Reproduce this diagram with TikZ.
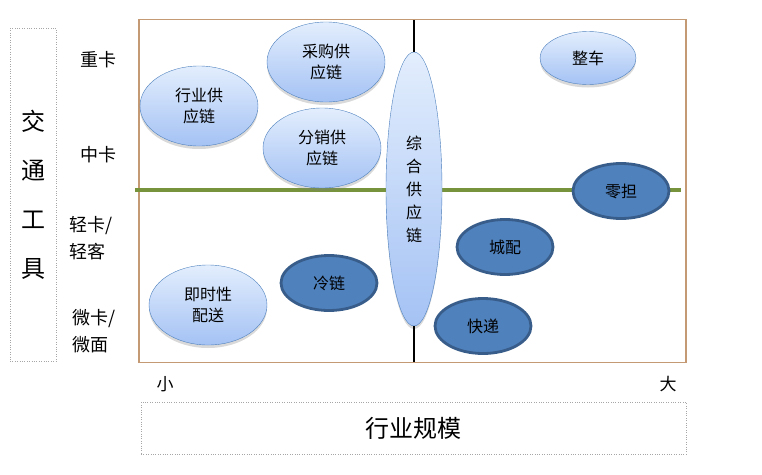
\documentclass[tikz,border=0pt]{standalone}
\usepackage{fontspec}
\setmainfont{Noto Sans CJK SC}
\usepackage{tikz}
\usetikzlibrary{shapes.geometric, shadows, positioning}
\usepackage{xcolor}
\definecolor{framecolor}{HTML}{C49A74}
\definecolor{linegreen}{HTML}{77933C}
\definecolor{bubbleedge}{HTML}{4F81BD}
\definecolor{bubbletop}{HTML}{E3EEFD}
\definecolor{bubblebot}{HTML}{A4C2F4}
\definecolor{darkfill}{HTML}{4F81BD}
\definecolor{darkedge}{HTML}{385D8A}

\begin{document}
\begin{tikzpicture}[
    x=1pt, y=-1pt,
    bubble/.style={ellipse, draw=bubbleedge, thin, top color=bubbletop, bottom color=bubblebot,
        inner sep=0pt, align=center, font=\fontsize{16}{21}\selectfont,
        drop shadow={shadow xshift=0pt, shadow yshift=-3pt, opacity=0.3}},
    darkbubble/.style={ellipse, draw=darkedge, line width=2.8pt, fill=darkfill,
        inner sep=0pt, align=center, font=\fontsize{16}{21}\selectfont,
        minimum width=96pt, minimum height=55pt},
    rowlabel/.style={align=left, font=\fontsize{18}{27}\selectfont},
    axisbox/.style={draw=gray!70, dotted, inner sep=0pt},
]
\useasboundingbox (0,0) rectangle (762,474);

% frame and axes
\node[draw=framecolor, line width=1.4pt, minimum width=547pt, minimum height=343pt] (frame) at (412.5,191) {};
\coordinate (vtop) at (414,20);
\coordinate (vbot) at (414,362);
\coordinate (gleft) at (135,190);
\coordinate (gright) at (681,190);
\draw[linegreen, line width=3.5pt] (gleft) -- (gright);

% axis titles
\node[axisbox, minimum width=46pt, minimum height=333pt, align=center,
      font=\fontsize{24}{49}\selectfont] (mode) at (33,194.5) {交\\通\\工\\具};
\node[axisbox, minimum width=545pt, minimum height=52pt,
      font=\fontsize{24}{30}\selectfont] (scale) at (413.5,428) {行业规模};
\node[font=\fontsize{17}{20}\selectfont] (small) at (165,384) {小};
\node[font=\fontsize{17}{20}\selectfont] (big) at (668,384) {大};

% vehicle rows
\node[rowlabel] (heavy) at (98,60) {重卡};
\node[rowlabel] (medium) at (98,155) {中卡};
\node[rowlabel] (light) at (91,238) {轻卡/\\轻客};
\node[rowlabel] (micro) at (94,331) {微卡/\\微面};

% supply chain bubbles
\node[bubble, minimum width=118pt, minimum height=80pt] (industry) at (199,106) {行业供\\应链};
\node[bubble, minimum width=118pt, minimum height=80pt] (purchase) at (326,62) {采购供\\应链};
\node[bubble, minimum width=118pt, minimum height=80pt] (distrib) at (322,148) {分销供\\应链};
\node[bubble, minimum width=56pt, minimum height=274pt, font=\fontsize{16}{23}\selectfont] (whole) at (414,189) {综\\合\\供\\应\\链};
\node[bubble, minimum width=96pt, minimum height=53pt] (truckload) at (588,58) {整车};
\node[bubble, minimum width=118pt, minimum height=80pt] (instant) at (208,305) {即时性\\配送};

\draw[black, line width=1.8pt] (vtop) -- (whole.north);
\draw[black, line width=1.8pt] (whole.south) -- (vbot);

% logistics bubbles
\node[darkbubble] (ltl) at (621,191) {零担};
\node[darkbubble] (cold) at (329,283) {冷链};
\node[darkbubble] (city) at (505,247) {城配};
\node[darkbubble] (express) at (483,326) {快递};

\end{tikzpicture}
\end{document}
